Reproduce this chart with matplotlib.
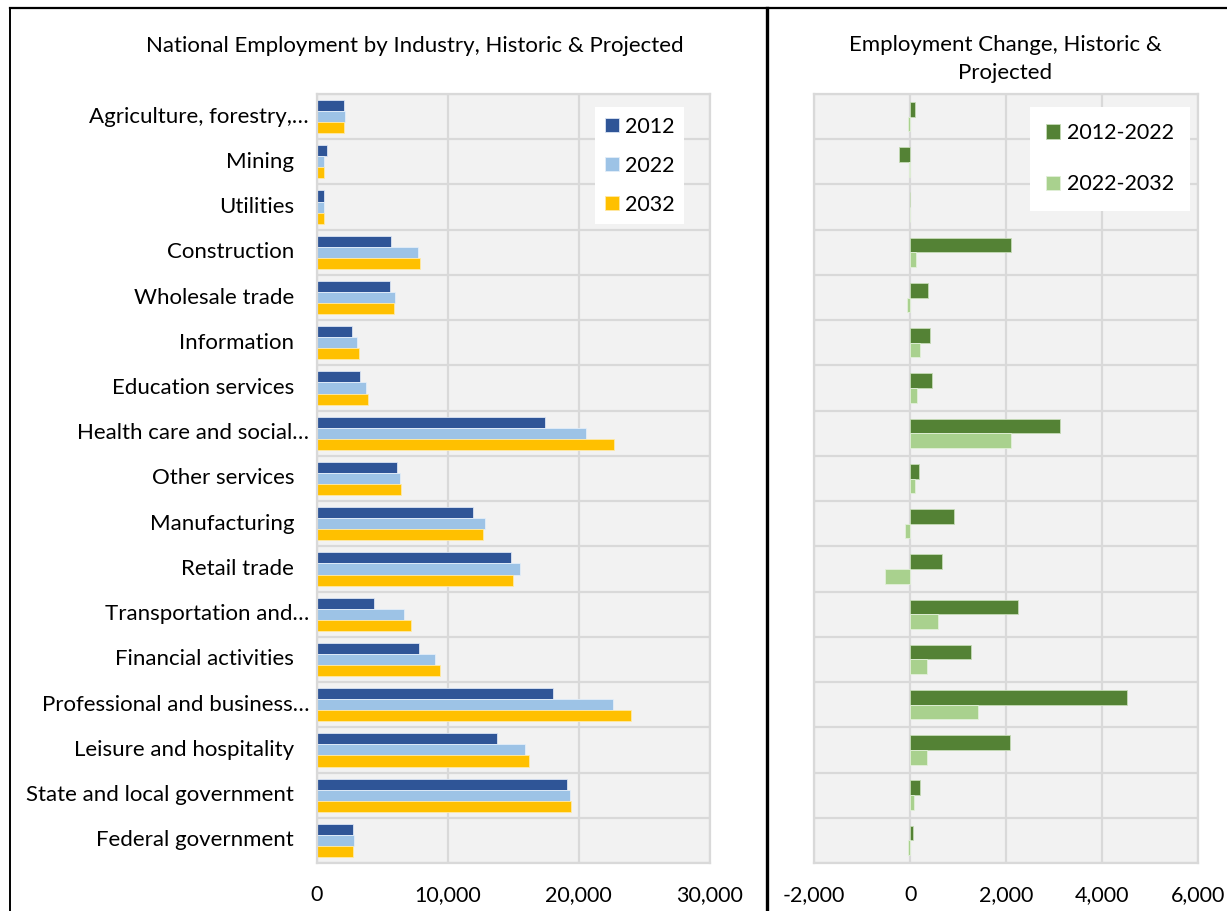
import matplotlib
matplotlib.use("Agg")
import matplotlib.pyplot as plt
from matplotlib.lines import Line2D
from matplotlib.ticker import FuncFormatter
import matplotlib.transforms as mtransforms
import numpy as np

plt.rcParams['font.family'] = ['Lato', 'DejaVu Sans']

industries = [
    "Agriculture, forestry,…",
    "Mining",
    "Utilities",
    "Construction",
    "Wholesale trade",
    "Information",
    "Education services",
    "Health care and social…",
    "Other services",
    "Manufacturing",
    "Retail trade",
    "Transportation and…",
    "Financial activities",
    "Professional and business…",
    "Leisure and hospitality",
    "State and local government",
    "Federal government",
]

# employment, thousands of jobs
emp_2012 = [2040, 765, 510, 5640, 5585, 2655, 3315, 17445, 6145, 11935,
            14820, 4360, 7780, 18055, 13770, 19130, 2780]
emp_2022 = [2140, 535, 535, 7730, 5945, 3060, 3750, 20580, 6350, 12830,
            15480, 6655, 9050, 22595, 15860, 19330, 2800]
emp_2032 = [2090, 510, 510, 7850, 5870, 3240, 3900, 22670, 6450, 12700,
            14970, 7190, 9385, 24025, 16195, 19410, 2780]

change_12_22 = [105, -230, -10, 2110, 370, 410, 460, 3130, 195, 905,
                675, 2255, 1265, 4535, 2075, 210, 55]
change_22_32 = [-50, -20, -5, 120, -75, 200, 140, 2095, 98, -105,
                -520, 580, 355, 1425, 355, 70, -40]

left_ticks = [0, 10000, 20000, 30000]
right_ticks = [-2000, 0, 2000, 4000, 6000]

W, H = 1227, 911
GRID = "#d9d9d9"
PLOT_BG = "#f2f2f2"
FS_TICK = 15.5
FS_CAT = 16
FS_TITLE = 16
FS_LEG = 15.5

fig = plt.figure(figsize=(W / 100, H / 100), dpi=100)


def px_axes(x0, x1, y0, y1):
    return fig.add_axes([x0 / W, 1 - y1 / H, (x1 - x0) / W, (y1 - y0) / H])


def style_axes(ax, n, ticks):
    ax.set_facecolor(PLOT_BG)
    ax.set_ylim(n - 0.5, -0.5)
    ax.set_xlim(ticks[0], ticks[-1])
    ax.set_xticks(ticks)
    ax.xaxis.set_major_formatter(FuncFormatter(lambda v, p: f"{v:,.0f}"))
    ax.set_yticks(np.arange(n + 1) - 0.5, minor=True)
    ax.set_yticks([])
    ax.grid(True, axis="x", which="major", color=GRID, lw=1.6)
    ax.grid(True, axis="y", which="minor", color=GRID, lw=1.6)
    ax.tick_params(axis="both", which="both", length=0)
    ax.tick_params(axis="x", labelsize=FS_TICK, pad=16)
    ax.set_axisbelow(True)
    for s in ax.spines.values():
        s.set_color(GRID)
        s.set_linewidth(1.6)


n = len(industries)
y = np.arange(n)

# left panel: employment levels
ax1 = px_axes(317, 709.7, 94, 863)
style_axes(ax1, n, left_ticks)
h = 0.245
ax1.barh(y - h, emp_2012, height=h, color="#2f5597", edgecolor="#dbe4f3", lw=0.6, label="2012")
ax1.barh(y, emp_2022, height=h, color="#9dc3e6", edgecolor="#e3eef9", lw=0.6, label="2022")
ax1.barh(y + h, emp_2032, height=h, color="#ffc000", edgecolor="#ffe9a6", lw=0.6, label="2032")

lab_tr = mtransforms.blended_transform_factory(ax1.transAxes, ax1.transData)
for i, name in enumerate(industries):
    dx = 15 if name.endswith("…") else 0
    off = mtransforms.ScaledTranslation((dx - 23) / 100, 0, fig.dpi_scale_trans)
    ax1.text(0, i, name, transform=lab_tr + off, ha="right", va="center",
             fontsize=FS_CAT, color="#000000")

ax1.legend(loc="upper left", bbox_to_anchor=(0.708, 0.983), borderaxespad=0,
           fontsize=FS_LEG, frameon=True, fancybox=False, framealpha=1,
           edgecolor="none", facecolor="white", handlelength=0.65,
           handleheight=0.65, handletextpad=0.3, labelspacing=0.88,
           borderpad=0.45)

# right panel: change in employment
ax2 = px_axes(814.3, 1197.7, 94, 863)
style_axes(ax2, n, right_ticks)
h2 = 0.325
ax2.barh(y - h2 / 2, change_12_22, height=h2, color="#548235", edgecolor="#c5dbb6", lw=0.6, label="2012-2022")
ax2.barh(y + h2 / 2, change_22_32, height=h2, color="#a9d18e", edgecolor="#e2f0d9", lw=0.6, label="2022-2032")
ax2.legend(loc="upper left", bbox_to_anchor=(0.5626, 0.983), borderaxespad=0,
           fontsize=FS_LEG, frameon=True, fancybox=False, framealpha=1,
           edgecolor="none", facecolor="white", handlelength=0.65,
           handleheight=0.65, handletextpad=0.3, labelspacing=1.45,
           borderpad=0.75)

# chart titles
fig.text(415 / W, 1 - 46 / H, "National Employment by Industry, Historic & Projected",
         ha="center", va="center", fontsize=FS_TITLE)
fig.text(1005 / W, 1 - 59 / H, "Employment Change, Historic &\nProjected",
         ha="center", va="center", fontsize=FS_TITLE, linespacing=1.45)

# panel frames
frame = dict(color="black", transform=fig.transFigure)
fig.add_artist(Line2D([10 / W, 10 / W], [0, 1 - 8 / H], lw=1.4, **frame))
fig.add_artist(Line2D([10 / W, 1], [1 - 8 / H, 1 - 8 / H], lw=1.6, **frame))
fig.add_artist(Line2D([767 / W, 767 / W], [0, 1 - 8 / H], lw=2.4, **frame))

fig.savefig("out.png", dpi=100)
